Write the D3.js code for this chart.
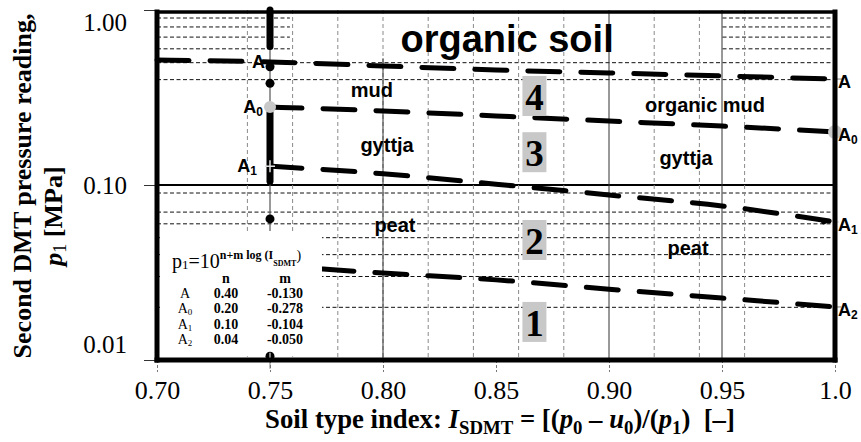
<!DOCTYPE html>
<html>
<head>
<meta charset="utf-8">
<script src="https://cdn.jsdelivr.net/npm/d3@7"></script>
<style>
  body { margin: 0; background: #fff; }
  svg { display: block; }
  text { white-space: pre; }
</style>
</head>
<body>
<svg id="chart" width="861" height="442"></svg>
<script>
// boundary curves p1(I_SDMT)
const isdmtA = [0.70, 0.75, 0.80, 0.85, 0.90, 0.95, 1.00];
const p1A    = [0.518, 0.505, 0.479, 0.454, 0.437, 0.420, 0.403];
const isdmtB = [0.75, 0.80, 0.85, 0.90, 0.95, 1.00];
const p1A0   = [0.279, 0.265, 0.248, 0.232, 0.217, 0.201];
const p1A1   = [0.128, 0.116, 0.101, 0.0877, 0.0759, 0.0615];
const isdmtC = [0.773, 0.80, 0.85, 0.90, 0.95, 1.00];
const p1A2   = [0.0331, 0.0314, 0.0287, 0.0254, 0.0226, 0.0201];

// measured points at I_SDMT = 0.75
const pointI = 0.75;
const pointSpans = [[1.0, 0.619], [0.279, 0.105]];
const pointDots = [0.474, 0.381, 0.064];
const pointLow = 0.0105;

// legend table
const legendNames = ['A', 'A', 'A', 'A'];
const legendSubs = ['', '0', '1', '2'];
const legendN = ['0.40', '0.20', '0.10', '0.04'];
const legendM = ['-0.130', '-0.278', '-0.104', '-0.050'];

// axis ticks
const xTicks = [0.70, 0.75, 0.80, 0.85, 0.90, 0.95, 1.00];
const xTickLabels = ['0.70', '0.75', '0.80', '0.85', '0.90', '0.95', '1.0'];
const yTicks = [0.01, 0.1, 1];
const yTickLabels = ['0.01', '0.10', '1.00'];

// zone numbers and soil names (placed in data units)
const zoneNums = ['1', '2', '3', '4'];
const zoneP1 = [0.0165, 0.0485, 0.154, 0.3226];
const zoneI = 0.867;
const soilNames = ['mud', 'gyttja', 'peat', 'organic mud', 'gyttja', 'peat'];
const soilI = [0.7951, 0.8018, 0.8053, 0.9425, 0.9341, 0.9350];
const soilP1 = [0.318, 0.1544, 0.0539, 0.2614, 0.130, 0.0398];

const SANS = '"Liberation Sans", Arial, sans-serif';
const SERIF = '"Liberation Serif", "Times New Roman", serif';

const svg = d3.select('#chart');
const x = d3.scaleLinear().domain([0.70, 1.00]).range([157, 835]);
const y = d3.scaleLog().domain([0.01, 1]).range([360, 10]);

// horizontal grid
const hMinor = [0.02, 0.03, 0.04, 0.05, 0.06, 0.07, 0.09, 0.4, 0.5, 0.6, 0.7, 0.8, 0.9];
svg.append('g').selectAll('line')
  .data(hMinor).join('line')
  .attr('x1', x(0.70)).attr('x2', x(1.0))
  .attr('y1', d => y(d)).attr('y2', d => y(d))
  .attr('stroke', '#111').attr('stroke-width', 1)
  .attr('stroke-dasharray', '4,2.5');
svg.append('line')
  .attr('x1', x(0.70)).attr('x2', x(1.0))
  .attr('y1', y(0.1)).attr('y2', y(0.1))
  .attr('stroke', '#000').attr('stroke-width', 2);

// white box behind title
svg.append('rect')
  .attr('x', x(0.7588)).attr('y', y(1))
  .attr('width', x(0.95) - x(0.7588)).attr('height', y(0.54) - y(1))
  .attr('fill', '#fff');

// vertical grid
const vMinor = [0.74, 0.76, 0.78, 0.80, 0.82, 0.84, 0.86, 0.88, 0.92, 0.94, 0.96];
svg.append('g').selectAll('line')
  .data(vMinor).join('line')
  .attr('x1', d => x(d)).attr('x2', d => x(d))
  .attr('y1', y(1)).attr('y2', y(0.01))
  .attr('stroke', '#8a8a8a').attr('stroke-width', 1)
  .attr('stroke-dasharray', '4,3');
svg.append('line')
  .attr('x1', x(0.80)).attr('x2', x(0.80))
  .attr('y1', y(0.53)).attr('y2', y(0.01))
  .attr('stroke', '#333');
svg.append('g').selectAll('line')
  .data([0.90, 0.95]).join('line')
  .attr('x1', d => x(d)).attr('x2', d => x(d))
  .attr('y1', y(1)).attr('y2', y(0.01))
  .attr('stroke', '#333');

// vertical line through the measured points
svg.append('line')
  .attr('x1', x(pointI)).attr('x2', x(pointI))
  .attr('y1', y(1)).attr('y2', y(0.01))
  .attr('stroke', '#555').attr('stroke-width', 1.2);

// labels at the curve ends
function curveLabel(px, py, name, sub, anchor) {
  let t = svg.append('text')
    .attr('x', px).attr('y', py)
    .attr('text-anchor', anchor)
    .attr('font-family', SANS).attr('font-weight', 'bold')
    .attr('font-size', 18);
  t.append('tspan').text(name);
  if (sub) t.append('tspan').attr('font-size', 12).attr('dy', 3).text(sub);
}
curveLabel(x(0.75) - 5, y(p1A[1]) + 6, 'A', '', 'end');
curveLabel(x(0.75) - 7, y(p1A0[0]) + 6, 'A', '0', 'end');
curveLabel(x(0.75) - 13, y(p1A1[0]) + 6, 'A', '1', 'end');

// boundary curves
const line = d3.line()
  .x(d => x(d[0])).y(d => y(d[1]))
  .curve(d3.curveMonotoneX);
const curves = [
  d3.zip(isdmtA, p1A),
  d3.zip(isdmtB, p1A0),
  d3.zip(isdmtB, p1A1),
  d3.zip(isdmtC, p1A2)
];
svg.append('g').selectAll('path')
  .data(curves).join('path')
  .attr('d', line)
  .attr('fill', 'none')
  .attr('stroke', '#000').attr('stroke-width', 5)
  .attr('stroke-linecap', 'round')
  .attr('stroke-dasharray', '32,21');

// measured points
svg.append('g').selectAll('line')
  .data(pointSpans).join('line')
  .attr('x1', x(pointI)).attr('x2', x(pointI))
  .attr('y1', d => y(d[0])).attr('y2', d => y(d[1]))
  .attr('stroke', '#000').attr('stroke-width', 7)
  .attr('stroke-linecap', 'round');
svg.append('g').selectAll('circle')
  .data(pointDots).join('circle')
  .attr('cx', x(pointI)).attr('cy', d => y(d))
  .attr('r', 4.5).attr('fill', '#000');

// grey markers on the curves
svg.append('circle').attr('cx', x(0.75)).attr('cy', y(p1A0[0])).attr('r', 6).attr('fill', '#c8c8c8');
svg.append('circle').attr('cx', x(1.0)).attr('cy', y(p1A0[5])).attr('r', 7).attr('fill', '#c8c8c8');
function cross(cx, cy, w, h, col) {
  svg.append('line').attr('x1', cx - w).attr('x2', cx + w).attr('y1', cy).attr('y2', cy)
    .attr('stroke', col).attr('stroke-width', 1.5);
  svg.append('line').attr('x1', cx).attr('x2', cx).attr('y1', cy - h).attr('y2', cy + h)
    .attr('stroke', col).attr('stroke-width', 1.5);
}
cross(x(0.75), y(p1A1[0]), 5, 6, '#e0e0e0');
svg.append('circle').attr('cx', x(0.995)).attr('cy', y(p1A1[5])).attr('r', 2.5).attr('fill', '#000');

// legend box
svg.append('rect')
  .attr('x', x(0.7013)).attr('y', y(0.0546))
  .attr('width', x(0.773) - x(0.7013)).attr('height', y(0.0105) - y(0.0546))
  .attr('fill', '#fff');

// lowest measured point
svg.append('circle').attr('cx', x(pointI)).attr('cy', y(pointLow)).attr('r', 4.5).attr('fill', '#000');
cross(x(pointI), y(0.0099), 13, 8, '#aaa');

// legend text
let f = svg.append('text')
  .attr('x', 172).attr('y', 268)
  .attr('font-family', SERIF).attr('font-size', 20);
f.append('tspan').text('p');
f.append('tspan').attr('font-size', 13).attr('dy', 1).text('1');
f.append('tspan').attr('dy', -1).text('=10');
f.append('tspan').attr('font-size', 12).attr('font-weight', 'bold').attr('dy', -9).text('n+m log (I');
f.append('tspan').attr('font-size', 8).attr('font-weight', 'bold').attr('dy', 7).text('SDMT');
f.append('tspan').attr('font-size', 14).attr('dy', -6).text(')');

const legendG = svg.append('g')
  .attr('font-family', SERIF).attr('font-size', 14).attr('font-weight', 'bold')
  .attr('text-anchor', 'middle');
legendG.append('text').attr('x', 226).attr('y', 283).text('n');
legendG.append('text').attr('x', 285).attr('y', 283).text('m');
legendNames.forEach(function(nm, i) {
  let by = 298 + i * 15.3;
  let t = legendG.append('text').attr('x', 185).attr('y', by).attr('font-weight', 'normal');
  t.append('tspan').text(nm);
  if (legendSubs[i]) t.append('tspan').attr('font-size', 9).attr('dy', 2).text(legendSubs[i]);
  legendG.append('text').attr('x', 226).attr('y', by).text(legendN[i]);
  legendG.append('text').attr('x', 285).attr('y', by).text(legendM[i]);
});

// title inside plot
svg.append('text')
  .attr('x', x(0.8549)).attr('y', y(0.575))
  .attr('text-anchor', 'middle')
  .attr('font-family', SANS).attr('font-weight', 'bold').attr('font-size', 38)
  .text('organic soil');

// soil names
svg.append('g').selectAll('text')
  .data(soilNames).join('text')
  .attr('x', (d, i) => x(soilI[i])).attr('y', (d, i) => y(soilP1[i]))
  .attr('text-anchor', 'middle')
  .attr('font-family', SANS).attr('font-weight', 'bold').attr('font-size', 20)
  .text(d => d);

// zone numbers in grey boxes
const zg = svg.append('g').selectAll('g')
  .data(zoneNums).join('g')
  .attr('transform', (d, i) => `translate(${x(zoneI)},${y(zoneP1[i])})`);
zg.append('rect').attr('x', -12).attr('y', -20).attr('width', 24).attr('height', 40).attr('fill', '#c8c8c8');
zg.append('text').attr('y', 14).attr('text-anchor', 'middle')
  .attr('font-family', SERIF).attr('font-weight', 'bold').attr('font-size', 37)
  .text(d => d);

// right labels of the curves
const rightEnds = [p1A[6], p1A0[5], p1A1[5], p1A2[5]];
cross(x(1.0) + 3, y(p1A[6]), 4, 0, '#aaa');
cross(x(1.0) + 1, y(p1A1[5]), 3, 6, '#ddd');
cross(x(1.0) + 3, y(p1A2[5]), 3, 0, '#aaa');
rightEnds.forEach(function(v, i) {
  curveLabel(838, y(v) + 9, 'A', legendSubs[i], 'start');
});

// axes
const yAxis = d3.axisLeft(y)
  .tickValues(yTicks)
  .tickFormat((d, i) => yTickLabels[i])
  .tickSize(13).tickPadding(17);
const yg = svg.append('g').attr('transform', 'translate(157,0)').call(yAxis);
yg.select('.domain').remove();
yg.selectAll('.tick line').attr('stroke', '#333');
yg.selectAll('.tick text')
  .attr('font-family', SERIF).attr('font-size', 25).attr('fill', '#000')
  .attr('transform', (d) => d === 1 ? 'translate(0,12)' : (d === 0.01 ? 'translate(0,-16)' : null));

const xAxis = d3.axisBottom(x)
  .tickValues(xTicks)
  .tickFormat((d, i) => xTickLabels[i])
  .tickSize(12).tickPadding(9);
const xg = svg.append('g').attr('transform', 'translate(0,360)').call(xAxis);
xg.select('.domain').remove();
xg.selectAll('.tick line').attr('stroke', '#777').attr('stroke-dasharray', '3,2');
xg.selectAll('.tick text')
  .attr('font-family', SERIF).attr('font-size', 26).attr('fill', '#000');

// frame
const frame = svg.append('g').attr('stroke', '#000').attr('stroke-linecap', 'square');
frame.append('line').attr('x1', 157).attr('x2', 157).attr('y1', 12).attr('y2', 360).attr('stroke-width', 5);
frame.append('line').attr('x1', 835).attr('x2', 835).attr('y1', 12).attr('y2', 360).attr('stroke-width', 5);
frame.append('line').attr('x1', 157).attr('x2', 835).attr('y1', 360).attr('y2', 360).attr('stroke-width', 5);
frame.append('line').attr('x1', 157).attr('x2', 835).attr('y1', 12).attr('y2', 12).attr('stroke-width', 3.5);

// axis titles
let xt = svg.append('text')
  .attr('text-anchor', 'middle')
  .attr('font-family', SERIF).attr('font-weight', 'bold').attr('font-size', 27);
xt.append('tspan').text('Soil type index: ');
xt.append('tspan').attr('font-style', 'italic').text('I');
xt.append('tspan').attr('font-size', 19).attr('dy', 6).text('SDMT');
xt.append('tspan').attr('dy', -6).text(' = [(');
xt.append('tspan').attr('font-style', 'italic').text('p');
xt.append('tspan').attr('font-size', 19).attr('dy', 6).text('0');
xt.append('tspan').attr('dy', -6).text(' \u2013 ');
xt.append('tspan').attr('font-style', 'italic').text('u');
xt.append('tspan').attr('font-size', 19).attr('dy', 6).text('0');
xt.append('tspan').attr('dy', -6).text(')/(');
xt.append('tspan').attr('font-style', 'italic').text('p');
xt.append('tspan').attr('font-size', 19).attr('dy', 6).text('1');
xt.append('tspan').attr('dy', -6).text(')  [\u2013]');
let xw = xt.node().getBBox().width;
xt.attr('transform', `translate(500,428) scale(${470 / xw},1)`);

svg.append('text')
  .attr('transform', 'translate(31,186) rotate(-90)')
  .attr('text-anchor', 'middle')
  .attr('font-family', SERIF).attr('font-weight', 'bold').attr('font-size', 26)
  .text('Second DMT pressure reading,');
let yt = svg.append('text')
  .attr('transform', 'translate(62,216) rotate(-90)')
  .attr('text-anchor', 'middle')
  .attr('font-family', SERIF).attr('font-weight', 'bold').attr('font-size', 26);
yt.append('tspan').attr('font-style', 'italic').text('p');
yt.append('tspan').attr('font-weight', 'normal').attr('font-size', 18).attr('dy', 4).text('1');
yt.append('tspan').attr('dy', -4).text(' [MPa]');
</script>
</body>
</html>
